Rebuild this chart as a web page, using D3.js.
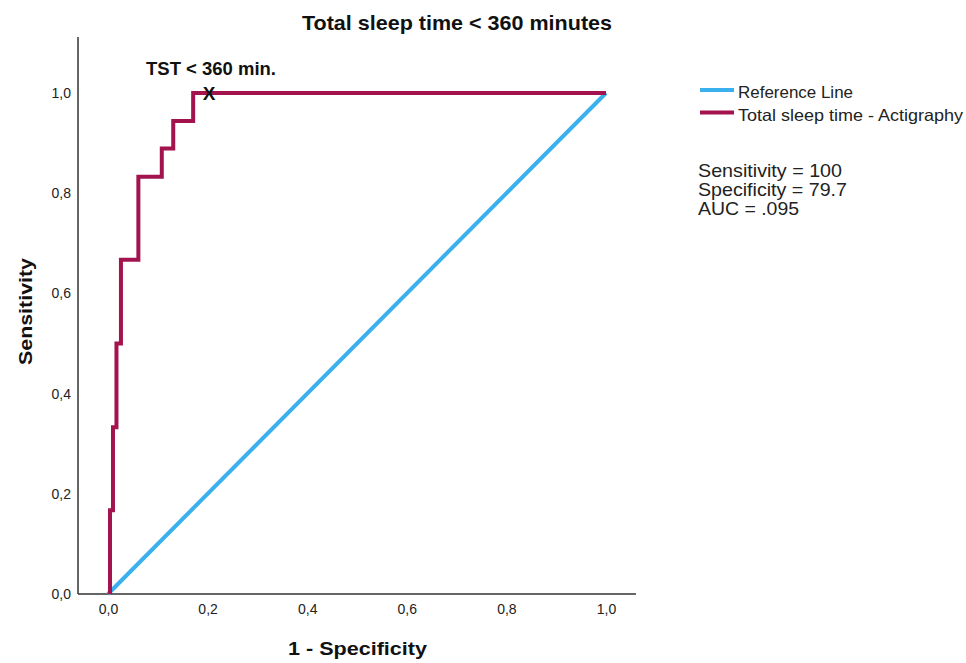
<!DOCTYPE html>
<html lang="en">
<head>
  <meta charset="UTF-8">
  <title>ROC curve</title>
  <style>
    body { margin: 0; background: #fff; }
    svg text { font-family: "Liberation Sans", Arial, sans-serif; }
  </style>
</head>
<body>
  <svg class="roc"></svg>
  <script src="https://cdn.jsdelivr.net/npm/d3@7"></script>
  <script>
    // ROC step points
    let fpr = [0.004, 0.004, 0.010, 0.010, 0.017, 0.017, 0.026, 0.026, 0.061, 0.061, 0.108, 0.108, 0.131, 0.131, 0.171, 0.171, 1.0]
    let tpr = [0.0, 0.167, 0.167, 0.333, 0.333, 0.5, 0.5, 0.667, 0.667, 0.833, 0.833, 0.889, 0.889, 0.944, 0.944, 1.0, 1.0]
    let refLine = [[0, 0], [1, 1]]
    let cutoff = { fpr: 0.203, tpr: 1.0, label: 'TST < 360 min.' }
    let tickValues = [0, 0.2, 0.4, 0.6, 0.8, 1.0]
    let legendLabels = ['Reference Line', 'Total sleep time - Actigraphy']
    let legendWidths = [115, 225]
    let stats = ['Sensitivity = 100', 'Specificity = 79.7', 'AUC = .095']
    let statWidths = [144, 149, 101]

    let width = 966, height = 663
    let blue = '#3bb0ef', red = '#a3134d'

    let svg = d3.select('svg')
      .attr('width', width)
      .attr('height', height)

    let x = d3.scaleLinear().domain([0, 1]).range([108, 606])
    let y = d3.scaleLinear().domain([0, 1]).range([594, 93])

    let fmt = d => d3.format('.1f')(d).replace('.', ',')

    // axes (labels only, no tick marks)
    let xAxis = svg.append('g')
      .attr('transform', 'translate(0,' + y(0) + ')')
      .call(d3.axisBottom(x).tickValues(tickValues).tickFormat(fmt).tickSize(0).tickPadding(10))
    xAxis.select('.domain').remove()

    let yAxis = svg.append('g')
      .attr('transform', 'translate(78,0)')
      .call(d3.axisLeft(y).tickValues(tickValues).tickFormat(fmt).tickSize(0).tickPadding(7))
    yAxis.select('.domain').remove()

    svg.selectAll('.tick text')
      .attr('font-size', 14)
      .attr('font-family', '"Liberation Sans", Arial, sans-serif')
      .attr('fill', '#222')

    svg.append('line')
      .attr('x1', 78).attr('x2', 636)
      .attr('y1', y(0)).attr('y2', y(0))
      .attr('stroke', '#333').attr('stroke-width', 1.5)
    svg.append('line')
      .attr('x1', 78).attr('x2', 78)
      .attr('y1', 37).attr('y2', y(0))
      .attr('stroke', '#333').attr('stroke-width', 1.5)

    let line = d3.line().x(d => x(d[0])).y(d => y(d[1]))

    svg.append('path')
      .attr('d', line(refLine))
      .attr('fill', 'none')
      .attr('stroke', blue)
      .attr('stroke-width', 4)

    svg.append('path')
      .attr('d', line(fpr.map((f, i) => [f, tpr[i]])))
      .attr('fill', 'none')
      .attr('stroke', red)
      .attr('stroke-width', 4)
      .attr('stroke-linejoin', 'miter')

    // cutoff marker
    svg.append('text')
      .attr('x', x(cutoff.fpr))
      .attr('y', y(cutoff.tpr) + 7)
      .attr('text-anchor', 'middle')
      .attr('font-size', 19)
      .attr('font-weight', 'bold')
      .attr('fill', '#111')
      .text('X')
    svg.append('text')
      .attr('x', 146)
      .attr('y', 75)
      .attr('font-size', 18)
      .attr('font-weight', 'bold')
      .attr('fill', '#111')
      .attr('textLength', 130)
      .attr('lengthAdjust', 'spacingAndGlyphs')
      .text(cutoff.label)

    // titles
    svg.append('text')
      .attr('x', 302).attr('y', 30)
      .attr('font-size', 20.5)
      .attr('font-weight', 'bold')
      .attr('fill', '#111')
      .attr('textLength', 310)
      .attr('lengthAdjust', 'spacingAndGlyphs')
      .text('Total sleep time < 360 minutes')

    svg.append('text')
      .attr('x', 288).attr('y', 655)
      .attr('font-size', 18.5)
      .attr('font-weight', 'bold')
      .attr('fill', '#111')
      .attr('textLength', 139)
      .attr('lengthAdjust', 'spacingAndGlyphs')
      .text('1 - Specificity')

    svg.append('text')
      .attr('transform', 'translate(32,365) rotate(-90)')
      .attr('font-size', 18.5)
      .attr('font-weight', 'bold')
      .attr('fill', '#111')
      .attr('textLength', 107)
      .attr('lengthAdjust', 'spacingAndGlyphs')
      .text('Sensitivity')

    // legend
    let legend = svg.append('g').attr('transform', 'translate(700,90)')
    let items = legend.selectAll('g')
      .data(legendLabels)
      .enter()
      .append('g')
      .attr('transform', (d, i) => 'translate(0,' + i * 22.5 + ')')
    items.append('line')
      .attr('x1', 0).attr('x2', 34)
      .attr('stroke', (d, i) => i === 0 ? blue : red)
      .attr('stroke-width', 4)
    items.append('text')
      .attr('x', 38).attr('y', 8)
      .attr('font-size', 16.5)
      .attr('fill', '#222')
      .attr('textLength', (d, i) => legendWidths[i])
      .attr('lengthAdjust', 'spacingAndGlyphs')
      .text(d => d)

    svg.append('g')
      .selectAll('text')
      .data(stats)
      .enter()
      .append('text')
      .attr('x', 698)
      .attr('y', (d, i) => 177 + i * 19)
      .attr('font-size', 18.5)
      .attr('fill', '#222')
      .attr('textLength', (d, i) => statWidths[i])
      .attr('lengthAdjust', 'spacingAndGlyphs')
      .text(d => d)
  </script>
</body>
</html>
